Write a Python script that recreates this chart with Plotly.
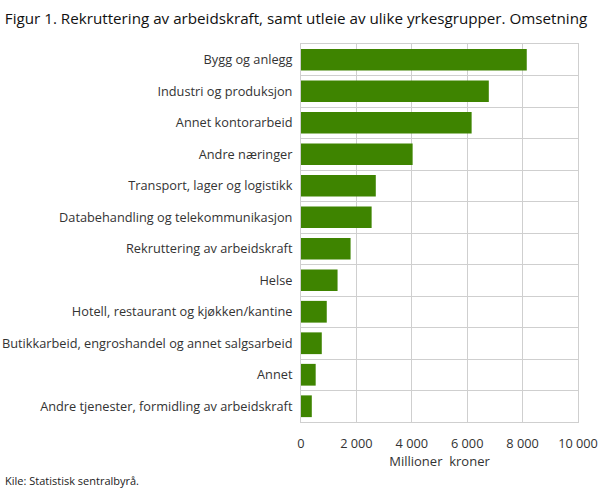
import plotly.graph_objects as go

categories = [
    "Bygg og anlegg",
    "Industri og produksjon",
    "Annet kontorarbeid",
    "Andre næringer",
    "Transport, lager og logistikk",
    "Databehandling og telekommunikasjon",
    "Rekruttering av arbeidskraft",
    "Helse",
    "Hotell, restaurant og kjøkken/kantine",
    "Butikkarbeid, engroshandel og annet salgsarbeid",
    "Annet",
    "Andre tjenester, formidling av arbeidskraft",
]
values = [8150, 6780, 6160, 4030, 2700, 2550, 1790, 1320, 930, 750, 530, 390]
x_ticks = [0, 2000, 4000, 6000, 8000, 10000]
x_labels = ["0", "2 000", "4 000", "6 000", "8 000", "10 000"]

font = "Open Sans, Noto Sans, sans-serif"
grid = "#cfcfcf"

pos = list(range(len(categories)))
bounds = [i - 0.5 for i in range(len(categories) + 1)]

fig = go.Figure(go.Bar(
    x=values,
    y=pos,
    orientation="h",
    marker_color="#3e8400",
    width=0.69,
))

fig.update_layout(
    template="none",
    width=609,
    height=488,
    plot_bgcolor="white",
    paper_bgcolor="white",
    margin=dict(l=301, r=31, t=44, b=66, pad=0),
    font=dict(family=font, size=12.75, color="#333333"),
    showlegend=False,
    title=dict(
        text="Figur 1. Rekruttering av arbeidskraft, samt utleie av ulike yrkesgrupper. Omsetning",
        x=0.008, xanchor="left", y=0.961, yanchor="middle",
        font=dict(family=font, size=15.2, color="#111111"),
    ),
    xaxis=dict(
        range=[0, 10000],
        tickvals=x_ticks,
        ticktext=x_labels,
        showgrid=True,
        gridcolor=grid,
        gridwidth=1,
        zeroline=False,
        showline=True,
        mirror=True,
        linecolor=grid,
        linewidth=1,
        ticks="",
        ticklabelstandoff=10,
        automargin=False,
        title=dict(text="Millioner  kroner", standoff=3, font=dict(size=13)),
        fixedrange=True,
    ),
    yaxis=dict(
        range=[len(categories) - 0.5, -0.5],
        tickvals=pos,
        ticktext=categories,
        showgrid=False,
        minor=dict(tickvals=bounds, showgrid=True, gridcolor=grid, gridwidth=1, ticks=""),
        zeroline=False,
        showline=True,
        mirror=True,
        linecolor=grid,
        linewidth=1,
        ticks="",
        ticklabelstandoff=5,
        automargin=False,
        fixedrange=True,
    ),
    annotations=[dict(
        text="Kile: Statistisk sentralbyrå.",
        xref="paper", yref="paper", x=-298 / 277, y=-0.156,
        xanchor="left", yanchor="middle", showarrow=False,
        font=dict(family=font, size=11, color="#222222"),
    )],
)

fig.write_html("out.html", config={"displayModeBar": False},
               post_script="document.body.style.margin='0';")
